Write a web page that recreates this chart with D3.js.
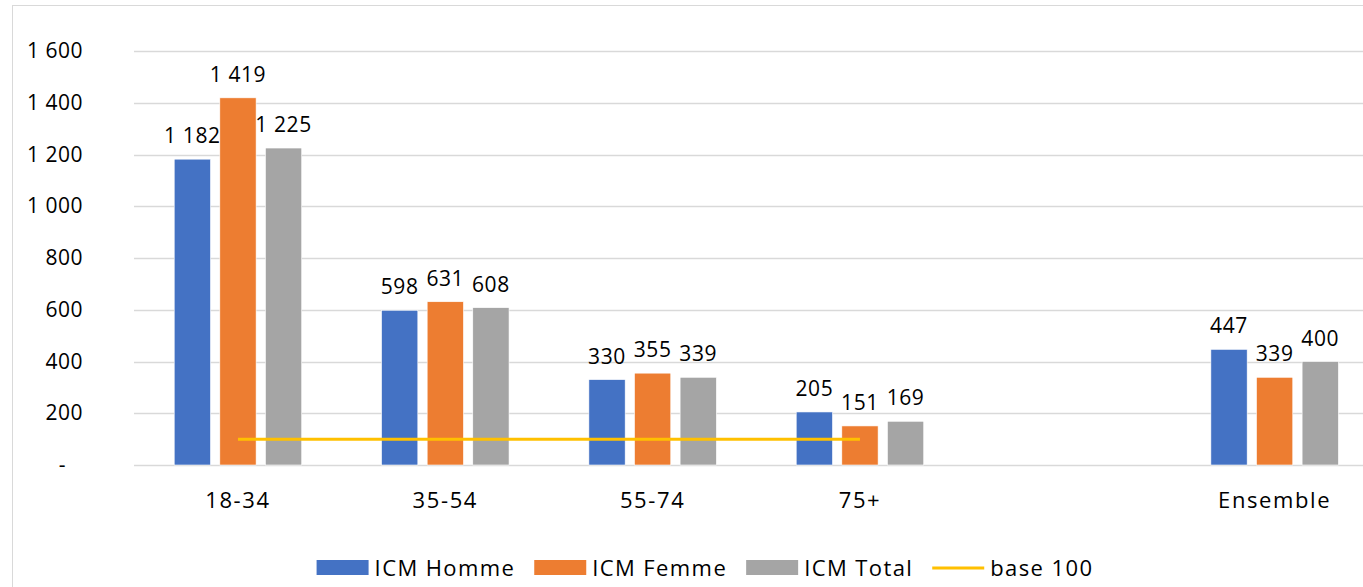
<!DOCTYPE html>
<html>
<head>
<meta charset="utf-8">
<script src="https://cdn.jsdelivr.net/npm/d3@7"></script>
<style>
  body { margin: 0; background: #fff; }
  text { font-family: "Open Sans", "Noto Sans", sans-serif; fill: #000; }
</style>
</head>
<body>
<main></main>
<script>
var width = 1363;
var height = 587;

// data
var categories = ["18-34", "35-54", "55-74", "75+", "", "Ensemble"];
var homme = [1182, 598, 330, 205, null, 447];
var femme = [1419, 631, 355, 151, null, 339];
var total = [1225, 608, 339, 169, null, 400];
var base = [100, 100, 100, 100, null, null];
var yTicks = [0, 200, 400, 600, 800, 1000, 1200, 1400, 1600];

var series = [
  { name: "ICM Homme", values: homme, color: "#4472C4" },
  { name: "ICM Femme", values: femme, color: "#ED7D31" },
  { name: "ICM Total", values: total, color: "#A5A5A5" }
];

var loc = d3.formatLocale({ decimal: ",", thousands: "\u00a0", grouping: [3], currency: ["", " €"] });
var fmt = loc.format(",d");

var svg = d3.select("main").append("svg")
    .attr("width", width)
    .attr("height", height);

svg.append("rect")
    .attr("x", 12.5)
    .attr("y", 5.5)
    .attr("width", 1400)
    .attr("height", 700)
    .attr("fill", "none")
    .attr("stroke", "#d9d9d9");

// use index keys so the empty slot gets its own band
var x = d3.scaleBand()
    .domain(categories.map(function(d, i) { return i; }))
    .range([134.3, 1378.3]);

var y = d3.scaleLinear()
    .domain([0, 1600])
    .range([465, 51]);

var bw = x.bandwidth() * 0.175;
var step = x.bandwidth() * 0.22;

// gridlines
svg.append("g").selectAll("line")
    .data(yTicks)
  .enter().append("line")
    .attr("x1", 134)
    .attr("x2", width)
    .attr("y1", function(d) { return Math.round(y(d)) + 0.5; })
    .attr("y2", function(d) { return Math.round(y(d)) + 0.5; })
    .attr("stroke", "#d9d9d9")
    .attr("stroke-width", 1.5);

// y axis
var yAxis = svg.append("g")
    .attr("transform", "translate(83,0)")
    .call(d3.axisLeft(y)
      .tickValues(yTicks)
      .tickSize(0)
      .tickPadding(0)
      .tickFormat(function(d) { return d === 0 ? "-" : fmt(d); }));
yAxis.select(".domain").remove();
yAxis.selectAll("text")
    .style("font-size", "21px")
    .style("letter-spacing", "0.5px")
    .attr("dx", function(d) { return d === 0 ? -17 : 0; });

// x axis
var xAxis = svg.append("g")
    .attr("transform", "translate(0,465)")
    .call(d3.axisBottom(x)
      .tickSize(0)
      .tickPadding(27)
      .tickFormat(function(i) { return categories[i]; }));
xAxis.select(".domain").remove();
xAxis.selectAll("text")
    .style("font-size", "22px")
    .style("letter-spacing", "1.6px");

// bars
series.forEach(function(s, k) {
  var g = svg.append("g");
  var pts = s.values.map(function(v, i) { return { i: i, v: v }; })
      .filter(function(d) { return d.v != null; });
  var cx = function(d) { return x(d.i) + x.bandwidth() / 2 + (k - 1) * step; };

  g.selectAll("rect")
      .data(pts)
    .enter().append("rect")
      .attr("x", function(d) { return cx(d) - bw / 2; })
      .attr("y", function(d) { return y(d.v); })
      .attr("width", bw)
      .attr("height", function(d) { return y(0) - y(d.v); })
      .attr("fill", s.color)
      .attr("stroke", "#fff")
      .attr("stroke-width", 0.6);

  g.selectAll("text")
      .data(pts)
    .enter().append("text")
      .attr("x", cx)
      .attr("y", function(d) { return y(d.v) - 16; })
      .attr("text-anchor", "middle")
      .style("font-size", "21px")
      .style("letter-spacing", "0.6px")
      .text(function(d) { return fmt(d.v); });
});

// base 100 line
var line = d3.line()
    .defined(function(d) { return d != null; })
    .x(function(d, i) { return x(i) + x.bandwidth() / 2; })
    .y(function(d) { return y(d); });

svg.append("path")
    .datum(base)
    .attr("d", line)
    .attr("fill", "none")
    .attr("stroke", "#FFC000")
    .attr("stroke-width", 3);

// legend
var items = series.map(function(s) { return { name: s.name, color: s.color, type: "bar" }; });
items.push({ name: "base 100", color: "#FFC000", type: "line" });

var legend = svg.append("g");
var lx = 0;
items.forEach(function(it) {
  var g = legend.append("g").attr("transform", "translate(" + lx + ",0)");
  if (it.type === "bar") {
    g.append("rect")
        .attr("x", 0)
        .attr("y", -8)
        .attr("width", 52)
        .attr("height", 15)
        .attr("fill", it.color);
  } else {
    g.append("line")
        .attr("x1", 0)
        .attr("x2", 52)
        .attr("y1", 0)
        .attr("y2", 0)
        .attr("stroke", it.color)
        .attr("stroke-width", 3);
  }
  var t = g.append("text")
      .attr("x", 58)
      .attr("y", 8)
      .style("font-size", "22px")
      .style("letter-spacing", "1.4px")
      .text(it.name);
  lx += 58 + t.node().getComputedTextLength() + 19;
});
lx -= 19;
legend.attr("transform", "translate(" + (705 - lx / 2) + ",568)");
</script>
</body>
</html>
